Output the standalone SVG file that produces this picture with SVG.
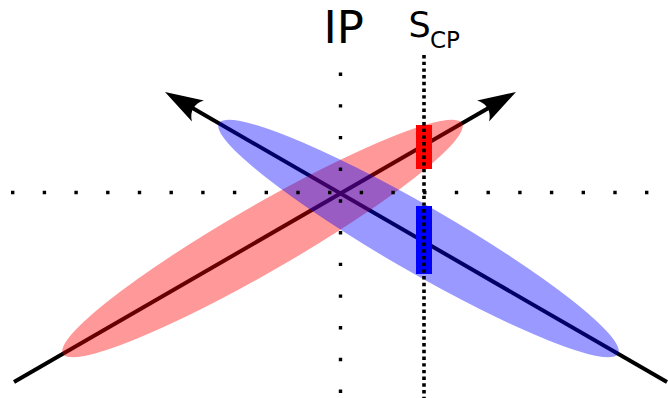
<svg xmlns="http://www.w3.org/2000/svg" width="668" height="398" viewBox="0 0 668 398">
<style>
.axis{stroke:#000;stroke-width:4;fill:none}
.dotsw{stroke:#000;stroke-width:3.4;fill:none;stroke-dasharray:3.4 28.3}
.dotsn{stroke:#000;stroke-width:3.6;fill:none;stroke-dasharray:3.4 3.3}
.lbl{font-family:"DejaVu Sans",sans-serif;fill:#000}
</style>
<defs>
<path id="ah" d="M0,0 L-38,-12 C-31,-4.5 -31,4.5 -38,12 Z" fill="#000"/>
</defs>
<rect width="668" height="398" fill="#fff"/>
<g id="connectors">
<line class="axis" x1="14" y1="382" x2="492" y2="106"/>
<line class="axis" x1="667" y1="382" x2="189" y2="106"/>
<use href="#ah" transform="translate(516,92) rotate(-30)"/>
<use href="#ah" transform="translate(165,92) rotate(210)"/>
</g>
<g id="beam-red">
<ellipse cx="262.5" cy="238.5" rx="230.5" ry="33" transform="rotate(-30 262.5 238.5)" fill="#ff0000" fill-opacity="0.4"/>
</g>
<g id="beam-blue">
<ellipse cx="418.5" cy="238.5" rx="230.5" ry="33" transform="rotate(30 418.5 238.5)" fill="#0000ff" fill-opacity="0.4"/>
</g>
<g id="guides">
<line class="dotsw" x1="11" y1="192.5" x2="668" y2="192.5"/>
<line class="dotsw" x1="340.5" y1="72.5" x2="340.5" y2="398"/>
</g>
<g id="rect-red"><rect x="416" y="125" width="16" height="44" fill="#ff0000"/></g>
<g id="rect-blue"><rect x="416" y="206" width="16" height="68" fill="#0000ff"/></g>
<g id="scp-line"><line class="dotsn" x1="424" y1="55" x2="424" y2="398"/></g>
<g id="label-ip"><text class="lbl" x="323.5" y="43.3" font-size="45">IP</text></g>
<g id="label-scp"><text class="lbl" x="408.5" y="37" font-size="35">S</text><text class="lbl" x="430" y="48.3" font-size="23">CP</text></g>
</svg>
